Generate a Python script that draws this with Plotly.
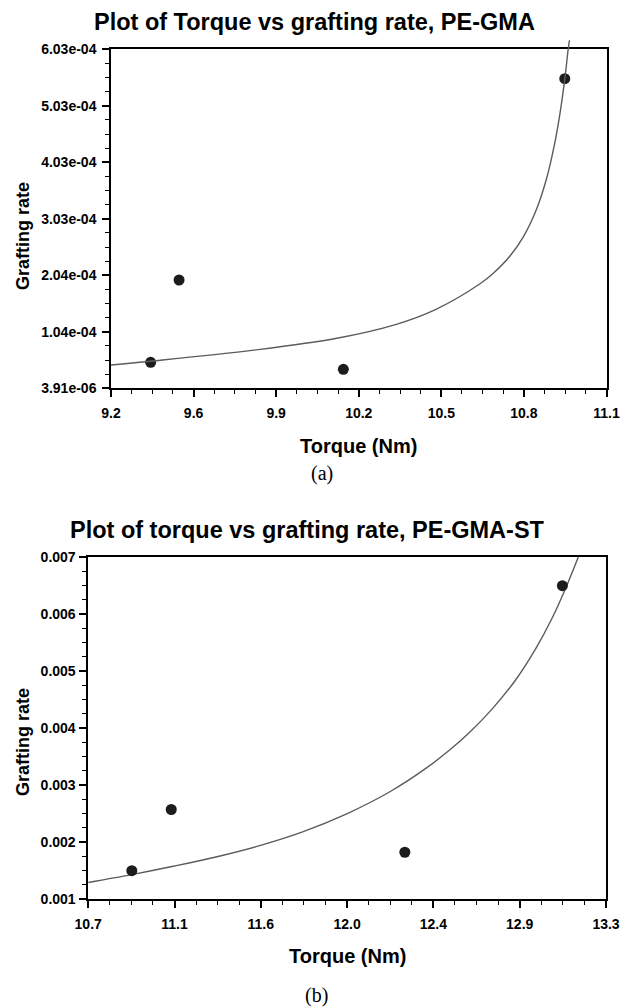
import plotly.graph_objects as go

W, H = 621, 1007

# ---------------- data ----------------
# (a) PE-GMA
ga_torque = [9.352, 9.461, 10.091, 10.94]
ga_rate = [4.98e-5, 1.953e-4, 3.75e-5, 5.51e-4]
ga_fit_torque = [9.2, 9.352, 9.747, 10.066, 10.294, 10.446, 10.615, 10.666, 10.730,
                 10.781, 10.832, 10.871, 10.899, 10.922, 10.941, 10.953, 10.958]
ga_fit_rate = [4.51e-5, 5.18e-5, 7.13e-5, 9.23e-5, 1.169e-4, 1.434e-4, 1.886e-4, 2.073e-4,
               2.376e-4, 2.715e-4, 3.208e-4, 3.760e-4, 4.313e-4, 4.908e-4, 5.539e-4,
               6.03e-4, 6.19e-4]
ga_xticks = ["9.2", "9.6", "9.9", "10.2", "10.5", "10.8", "11.1"]
ga_yticks = ["3.91e-06", "1.04e-04", "2.04e-04", "3.03e-04", "4.03e-04", "5.03e-04", "6.03e-04"]
ga_xrange = [9.2, 11.1]
ga_yrange = [3.91e-6, 6.03e-4]

# (b) PE-GMA-ST
gs_torque = [10.919, 11.117, 12.290, 13.081]
gs_rate = [0.001497, 0.00257, 0.00182, 0.006496]
gs_fit_torque = [10.7, 10.919, 11.133, 11.352, 11.561, 11.780, 11.998, 12.217, 12.397,
                 12.513, 12.613, 12.730, 12.847, 12.948, 13.031, 13.098, 13.161]
gs_fit_rate = [0.00129, 0.001428, 0.001578, 0.001746, 0.001936, 0.002182, 0.002494, 0.002886,
               0.003295, 0.003609, 0.003917, 0.00434, 0.004847, 0.005397, 0.005939,
               0.006457, 0.007]
gs_xticks = ["10.7", "11.1", "11.6", "12.0", "12.4", "12.9", "13.3"]
gs_yticks = ["0.001", "0.002", "0.003", "0.004", "0.005", "0.006", "0.007"]
gs_xrange = [10.7, 13.3]
gs_yrange = [0.001, 0.007]

# ---------------- helpers ----------------
SANS = "Liberation Sans, Arial, sans-serif"
SERIF = "Liberation Serif, Times New Roman, serif"

# plot-area pixel boxes (left, right, top, bottom)
A_BOX = (111.0, 606.5, 49.3, 388.3)
B_BOX = (88.2, 606.0, 557.0, 899.0)
A_OVERSHOOT_TOP = 36.0  # the fitted curve of (a) pokes above the frame


def px_x(p):
    return p / W


def px_y(p):
    return 1 - p / H


def even(r, n):
    return [r[0] + (r[1] - r[0]) * k / n for k in range(n + 1)]


def minor_vals(r, nmajor, sub):
    allv = even(r, nmajor * sub)
    return [v for i, v in enumerate(allv) if i % sub != 0]


def axis(r, labels, domain, anchor):
    return dict(
        domain=domain, anchor=anchor, range=r, autorange=False,
        tickmode="array", tickvals=even(r, len(labels) - 1), ticktext=labels,
        ticks="outside", ticklen=7, tickwidth=1.5, tickcolor="black",
        minor=dict(tickmode="array", tickvals=minor_vals(r, len(labels) - 1, 4),
                   ticks="outside", ticklen=4, tickwidth=1, tickcolor="black", showgrid=False),
        showline=True, linecolor="black", linewidth=1.5, mirror=True,
        showgrid=False, zeroline=False, automargin=False,
        tickfont=dict(family=SANS, size=14, color="black", weight="bold"),
        fixedrange=True,
    )


fig = go.Figure()

line_style = dict(color="#5c5c5c", width=1.4, shape="spline", smoothing=1.0)
marker_style = dict(color="#1c1c1c", size=11, line=dict(width=0))

# (a): markers on the framed axes, fitted curve on a hidden twin whose box
# reaches a little above the frame (the curve pokes out of the top in the original)
fig.add_trace(go.Scatter(x=ga_torque, y=ga_rate, mode="markers", marker=marker_style,
                         xaxis="x", yaxis="y", showlegend=False))
fig.add_trace(go.Scatter(x=ga_fit_torque, y=ga_fit_rate, mode="lines", line=line_style,
                         xaxis="x3", yaxis="y3", showlegend=False, hoverinfo="skip"))
# (b)
fig.add_trace(go.Scatter(x=gs_fit_torque, y=gs_fit_rate, mode="lines", line=line_style,
                         xaxis="x2", yaxis="y2", showlegend=False, hoverinfo="skip"))
fig.add_trace(go.Scatter(x=gs_torque, y=gs_rate, mode="markers", marker=marker_style,
                         xaxis="x2", yaxis="y2", showlegend=False))

xa = axis(ga_xrange, ga_xticks, [px_x(A_BOX[0]), px_x(A_BOX[1])], "y")
ya = axis(ga_yrange, ga_yticks, [px_y(A_BOX[3]), px_y(A_BOX[2])], "x")
xb = axis(gs_xrange, gs_xticks, [px_x(B_BOX[0]), px_x(B_BOX[1])], "y2")
yb = axis(gs_yrange, gs_yticks, [px_y(B_BOX[3]), px_y(B_BOX[2])], "x2")
xa["ticklabelstandoff"] = 4
xb["ticklabelstandoff"] = 4
ya["ticklabelstandoff"] = 3
yb["ticklabelstandoff"] = 1

# hidden twin axes for (a), same data-to-pixel scale, taller box
per_px = (ga_yrange[1] - ga_yrange[0]) / (A_BOX[3] - A_BOX[2])
y3_top = ga_yrange[1] + (A_BOX[2] - A_OVERSHOOT_TOP) * per_px
xa3 = dict(domain=xa["domain"], range=ga_xrange, anchor="y3", visible=False,
           showgrid=False, zeroline=False, fixedrange=True)
ya3 = dict(domain=[px_y(A_BOX[3]), px_y(A_OVERSHOOT_TOP)], range=[ga_yrange[0], y3_top],
           anchor="x3", visible=False, showgrid=False, zeroline=False, fixedrange=True)

annotations = []


def ann(text, x, y, size, family=SANS, bold=True, angle=0):
    annotations.append(dict(
        text=text, x=px_x(x), y=px_y(y), xref="paper", yref="paper",
        xanchor="center", yanchor="middle", showarrow=False, textangle=angle,
        font=dict(family=family, size=size, color="black", weight="bold" if bold else "normal"),
    ))


ann("Plot of Torque vs grafting rate, PE-GMA", 314, 22, 23.5)
ann("Torque (Nm)", 358.8, 446, 20)
ann("Grafting rate", 23, 236, 18, angle=-90)
ann("(a)", 322, 473, 20, family=SERIF, bold=False)

ann("Plot of torque vs grafting rate, PE-GMA-ST", 307.7, 530, 23.5)
ann("Torque (Nm)", 347.1, 955.5, 20)
ann("Grafting rate", 23, 742, 18, angle=-90)
ann("(b)", 316, 995, 20, family=SERIF, bold=False)

fig.update_layout(
    width=W, height=H,
    margin=dict(l=0, r=0, t=0, b=0),
    paper_bgcolor="white", plot_bgcolor="rgba(0,0,0,0)",
    xaxis=xa, yaxis=ya, xaxis2=xb, yaxis2=yb, xaxis3=xa3, yaxis3=ya3,
    annotations=annotations,
    showlegend=False,
)

fig.write_html("out.html", config={"displayModeBar": False})
